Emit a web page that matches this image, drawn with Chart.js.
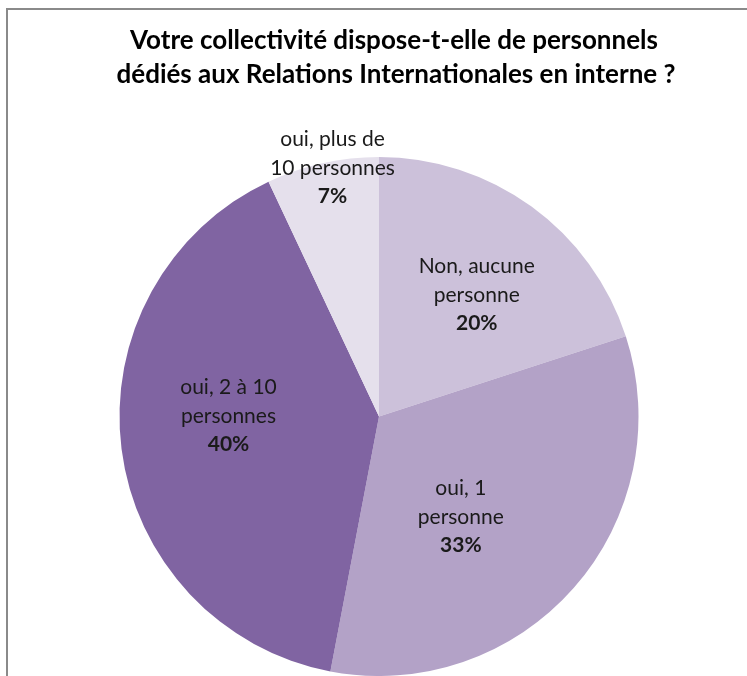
<!DOCTYPE html>
<html lang="fr">
<head>
<meta charset="utf-8">
<script src="https://cdn.jsdelivr.net/npm/chart.js@4/dist/chart.umd.min.js"></script>
<style>
  html, body { margin: 0; padding: 0; background: #fff; }
  canvas { display: block; }
</style>
</head>
<body>
<canvas id="chart" width="747" height="676"></canvas>
<script>
// réponses et pourcentages
let categories = [
    ['Non, aucune', 'personne'],
    ['oui, 1', 'personne'],
    ['oui, 2 à 10', 'personnes'],
    ['oui, plus de', '10 personnes']
];
let percents = [20, 33, 40, 7];
let sliceColors = ['#CCC1DA', '#B3A2C7', '#8064A2', '#E5E0EC'];

let titleLines = [
    'Votre collectivité dispose-t-elle de personnels',
    'dédiés aux Relations Internationales en interne ?'
];

// placement des étiquettes dans chaque part (fraction de l'angle, fraction du rayon)
let labelAngle = [0.54, 0.58, 0.55, 0.58];
let labelRadius = [0.6, 0.5, 0.58, 0.975];

const frameAndTitle = {
    id: 'frameAndTitle',
    beforeDraw(chart) {
        const ctx = chart.ctx;
        ctx.save();
        ctx.fillStyle = '#fff';
        ctx.fillRect(0, 0, chart.width, chart.height);
        // cadre gris
        ctx.strokeStyle = '#8a8a8a';
        ctx.lineWidth = 2;
        ctx.beginPath();
        ctx.moveTo(7, chart.height + 5);
        ctx.lineTo(7, 9);
        ctx.lineTo(chart.width + 5, 9);
        ctx.stroke();
        // titre
        ctx.fillStyle = '#000';
        ctx.font = 'bold 26px Lato, "Open Sans", sans-serif';
        ctx.textAlign = 'center';
        ctx.textBaseline = 'middle';
        ctx.fillText(titleLines[0], 394, 41);
        ctx.fillText(titleLines[1], 396, 75);
        ctx.restore();
    }
};

const sliceLabels = {
    id: 'sliceLabels',
    afterDatasetsDraw(chart) {
        const ctx = chart.ctx;
        const meta = chart.getDatasetMeta(0);
        ctx.save();
        ctx.textAlign = 'center';
        ctx.textBaseline = 'middle';
        ctx.fillStyle = '#1a1a1a';
        meta.data.forEach((arc, i) => {
            const p = arc.getProps(['x', 'y', 'startAngle', 'endAngle', 'outerRadius'], true);
            const a = p.startAngle + (p.endAngle - p.startAngle) * labelAngle[i];
            const r = p.outerRadius * labelRadius[i];
            const cx = p.x + Math.cos(a) * r;
            const cy = p.y + Math.sin(a) * r;
            ctx.font = '21px Lato, "Open Sans", sans-serif';
            ctx.fillText(categories[i][0], cx, cy - 29);
            ctx.fillText(categories[i][1], cx, cy);
            ctx.font = 'bold 21px Lato, "Open Sans", sans-serif';
            ctx.fillText(percents[i] + '%', cx, cy + 28);
        });
        ctx.restore();
    }
};

new Chart(document.getElementById('chart').getContext('2d'), {
    type: 'pie',
    data: {
        labels: categories.map(c => c.join(' ')),
        datasets: [{
            data: percents,
            backgroundColor: sliceColors,
            borderWidth: 0,
            hoverOffset: 0
        }]
    },
    options: {
        responsive: false,
        animation: false,
        layout: {
            padding: { top: 157, left: 11, right: 0, bottom: 0 }
        },
        plugins: {
            legend: { display: false },
            tooltip: { enabled: false },
            title: { display: false }
        }
    },
    plugins: [frameAndTitle, sliceLabels]
});
</script>
</body>
</html>
